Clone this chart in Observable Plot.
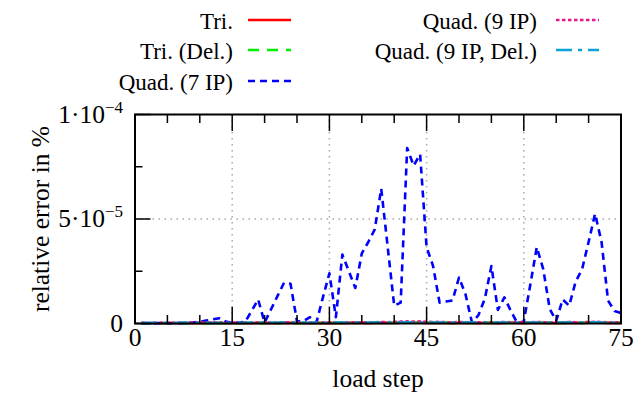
<!DOCTYPE html>
<html><head><meta charset="utf-8">
<script src="https://cdn.jsdelivr.net/npm/d3@7"></script>
<script src="https://cdn.jsdelivr.net/npm/@observablehq/plot@0.6"></script>
<style>
body{margin:0;background:#fff;}
#wrap{position:relative;width:641px;height:394px;font-family:"Liberation Serif","Times New Roman",serif;color:#000;}
#legend .txt{position:absolute;left:0;height:30px;line-height:30px;text-align:right;font-size:23px;white-space:nowrap;}
#legend svg{position:absolute;overflow:visible;}
</style></head><body>
<div id="wrap"><div id="chart"></div><div id="legend"></div></div>
<script>
// load steps
const loadSteps = [1,2,3,4,5,6,7,8,9,10,11,12,13,14,15,16,17,18,19,20,21,22,23,24,25,
  26,27,28,29,30,31,32,33,34,35,36,37,38,39,40,41,42,43,44,45,46,47,48,49,50,
  51,52,53,54,55,56,57,58,59,60,61,62,63,64,65,66,67,68,69,70,71,72,73,74,75];
// relative error in %, values in units of 1e-5
const tri = [0.01,0.01,0.02,0.01,0.02,0.02,0.01,0.02,0.03,0.02,0.02,0.03,0.02,0.01,0.02,
  0.03,0.02,0.02,0.03,0.02,0.01,0.02,0.03,0.03,0.02,0.01,0.02,0.03,0.02,0.03,
  0.02,0.02,0.03,0.04,0.03,0.02,0.03,0.04,0.03,0.03,0.04,0.05,0.04,0.04,0.03,
  0.03,0.04,0.03,0.02,0.03,0.04,0.03,0.02,0.03,0.03,0.02,0.03,0.04,0.03,0.02,
  0.03,0.04,0.03,0.03,0.02,0.03,0.04,0.03,0.03,0.04,0.05,0.04,0.03,0.03,0.03];
const triDel = [0.02,0.01,0.02,0.02,0.01,0.02,0.03,0.02,0.02,0.03,0.02,0.02,0.03,0.02,0.02,
  0.02,0.03,0.02,0.03,0.02,0.02,0.03,0.04,0.03,0.02,0.03,0.02,0.03,0.03,0.04,
  0.03,0.03,0.04,0.03,0.04,0.03,0.04,0.05,0.04,0.03,0.04,0.05,0.05,0.04,0.04,
  0.04,0.03,0.04,0.03,0.03,0.04,0.03,0.03,0.04,0.03,0.03,0.04,0.03,0.03,0.03,
  0.04,0.04,0.03,0.03,0.04,0.03,0.04,0.04,0.03,0.04,0.05,0.04,0.04,0.03,0.04];
const quad7 = [0.02,0.02,0.01,0.02,0.02,0.01,0.02,0.03,0.05,0.08,0.14,0.2,0.25,0.1,0.02,
  0.05,0.08,0.6,1.15,0.05,0.68,1.32,1.95,1.9,0.1,0.12,0.3,0.05,1.25,2.4,
  0.3,3.3,2.5,1.7,3.35,3.9,4.5,6.45,3.65,0.85,1.0,8.4,7.55,8.1,3.65,
  2.75,1.0,1.05,1.1,2.2,1.4,0.05,0.4,1.2,2.75,0.65,1.25,0.6,0.02,0.1,
  1.85,3.65,2.6,0.7,0.12,1.15,0.85,2.0,2.6,3.9,5.25,3.9,1.1,0.6,0.5];
const quad9 = [0.03,0.02,0.03,0.04,0.03,0.03,0.04,0.03,0.04,0.04,0.05,0.04,0.04,0.03,0.04,
  0.04,0.05,0.04,0.05,0.04,0.04,0.05,0.06,0.05,0.04,0.05,0.04,0.05,0.05,0.06,
  0.05,0.05,0.06,0.05,0.06,0.05,0.06,0.07,0.06,0.08,0.09,0.1,0.09,0.1,0.08,
  0.07,0.08,0.06,0.06,0.07,0.06,0.05,0.06,0.06,0.05,0.06,0.07,0.06,0.06,0.05,
  0.06,0.07,0.06,0.05,0.06,0.06,0.07,0.06,0.06,0.07,0.08,0.07,0.06,0.06,0.06];
const quad9Del = [0.02,0.02,0.03,0.02,0.03,0.02,0.03,0.03,0.02,0.03,0.03,0.02,0.03,0.03,0.02,
  0.03,0.03,0.04,0.03,0.03,0.04,0.03,0.04,0.04,0.03,0.04,0.03,0.04,0.04,0.03,
  0.04,0.04,0.03,0.04,0.05,0.04,0.04,0.05,0.04,0.05,0.05,0.06,0.05,0.05,0.04,
  0.05,0.04,0.04,0.05,0.04,0.04,0.05,0.04,0.05,0.05,0.04,0.05,0.04,0.04,0.05,
  0.04,0.05,0.05,0.04,0.05,0.04,0.05,0.05,0.04,0.05,0.06,0.05,0.05,0.04,0.05];

const seriesNames = ["Tri.", "Tri. (Del.)", "Quad. (7 IP)", "Quad. (9 IP)", "Quad. (9 IP, Del.)"];
const seriesValues = [tri, triDel, quad7, quad9, quad9Del];

// axis ticks
const xMajor = [0, 15, 30, 45, 60, 75];
const xMinor = [5, 10, 20, 25, 35, 40, 50, 55, 65, 70];
const xGrid = [15, 30, 45, 60];
const yMajor = [0, 5, 10];
const yMinor = [2.5, 7.5];
const yGrid = [5];
const yTickLabels = ["0", "5·10^-5", "1·10^-4"];
const xLabel = "load step";
const yLabel = "relative error in %";

// styles
const seriesColors = ["#ff0000", "#00ee00", "#0000ff", "#e8168c", "#0aa3d8"];
const seriesDash = [null, "11,8", "7,5", "3.5,2.5", "16,6,4,6"];

const data = seriesNames.flatMap((name, k) =>
  loadSteps.map((s, i) => ({step: s, v: seriesValues[k][i], series: name})));

const ink = "#000";
const plot = Plot.plot({
  width: 641, height: 394,
  marginLeft: 134.5, marginRight: 20.5, marginTop: 114, marginBottom: 71,
  x: {domain: [0, 75]},
  y: {domain: [0, 10]},
  style: {fontFamily: '"Liberation Serif","Times New Roman",serif', fontSize: "25.5px", background: "white", color: ink},
  marks: [
    Plot.gridX(xGrid, {stroke: "#a8a8a8", strokeOpacity: 1, strokeWidth: 1.5, strokeDasharray: "1.5,4.5"}),
    Plot.gridY(yGrid, {stroke: "#a8a8a8", strokeOpacity: 1, strokeWidth: 1.5, strokeDasharray: "1.5,4.5"}),
    ...seriesNames.map((name, k) => Plot.line(data.filter(d => d.series === name), {
      x: "step", y: "v", stroke: seriesColors[k], strokeWidth: 2.6,
      strokeDasharray: seriesDash[k] || undefined, strokeLinecap: "butt", strokeLinejoin: "round"
    })),
    Plot.axisX(xMinor, {anchor: "bottom", tickSize: -8, text: null, label: null, strokeWidth: 1.5}),
    Plot.axisX(xMajor, {anchor: "bottom", tickSize: -16, text: null, label: null, strokeWidth: 1.5}),
    Plot.axisX(xMinor, {anchor: "top", tickSize: -8, text: null, label: null, strokeWidth: 1.5}),
    Plot.axisX(xMajor, {anchor: "top", tickSize: -16, text: null, label: null, strokeWidth: 1.5}),
    Plot.axisY(yMinor, {anchor: "left", tickSize: -8, text: null, label: null, strokeWidth: 1.5}),
    Plot.axisY(yMajor, {anchor: "left", tickSize: -16, text: null, label: null, strokeWidth: 1.5}),
    Plot.axisX(xMajor, {anchor: "bottom", tickSize: 0, tickPadding: 4, label: null, tickFormat: d => String(d)}),
    Plot.axisY(yMajor, {anchor: "left", tickSize: 0, tickPadding: 12, label: null,
      tickFormat: d => yTickLabels[yMajor.indexOf(d)]}),
    Plot.frame({stroke: ink, strokeWidth: 2}),
    Plot.text([xLabel], {frameAnchor: "bottom", dy: 55, lineAnchor: "middle", textAnchor: "middle", fill: ink}),
    Plot.text([yLabel], {frameAnchor: "left", dx: -94, rotate: -90, lineAnchor: "middle", textAnchor: "middle", fill: ink})
  ]
});
document.getElementById("chart").appendChild(plot);

// superscript exponents in the y tick labels
plot.querySelectorAll("text").forEach(t => {
  const s = t.textContent;
  if (s.includes("^")) {
    const [base, exp] = s.split("^");
    t.textContent = "";
    const a = document.createElementNS("http://www.w3.org/2000/svg", "tspan");
    a.textContent = base;
    const b = document.createElementNS("http://www.w3.org/2000/svg", "tspan");
    b.textContent = exp.replace("-", "\u2212");
    b.setAttribute("dy", "-10");
    b.setAttribute("font-size", "17px");
    t.appendChild(a); t.appendChild(b);
  }
});

// legend
const legendCol = [0, 0, 0, 1, 1];
const legendRow = [0, 1, 2, 0, 1];
const rowY = [20, 50, 81];
const textRight = [233, 537];
const sampleLeft = [248, 556];
const sampleWidth = 43;
const leg = document.getElementById("legend");
seriesNames.forEach((name, k) => {
  const c = legendCol[k], r = legendRow[k];
  const t = document.createElement("div");
  t.className = "txt";
  t.style.top = (rowY[r] - 13) + "px";
  t.style.width = textRight[c] + "px";
  t.textContent = name;
  leg.appendChild(t);
  const svg = d3.create("svg").attr("width", sampleWidth).attr("height", 6)
    .style("left", sampleLeft[c] + "px").style("top", (rowY[r] - 3) + "px");
  svg.append("line").attr("x1", 0).attr("x2", sampleWidth).attr("y1", 3).attr("y2", 3)
    .attr("stroke", seriesColors[k]).attr("stroke-width", 2.6)
    .attr("stroke-dasharray", seriesDash[k]);
  leg.appendChild(svg.node());
});
</script>
</body></html>
